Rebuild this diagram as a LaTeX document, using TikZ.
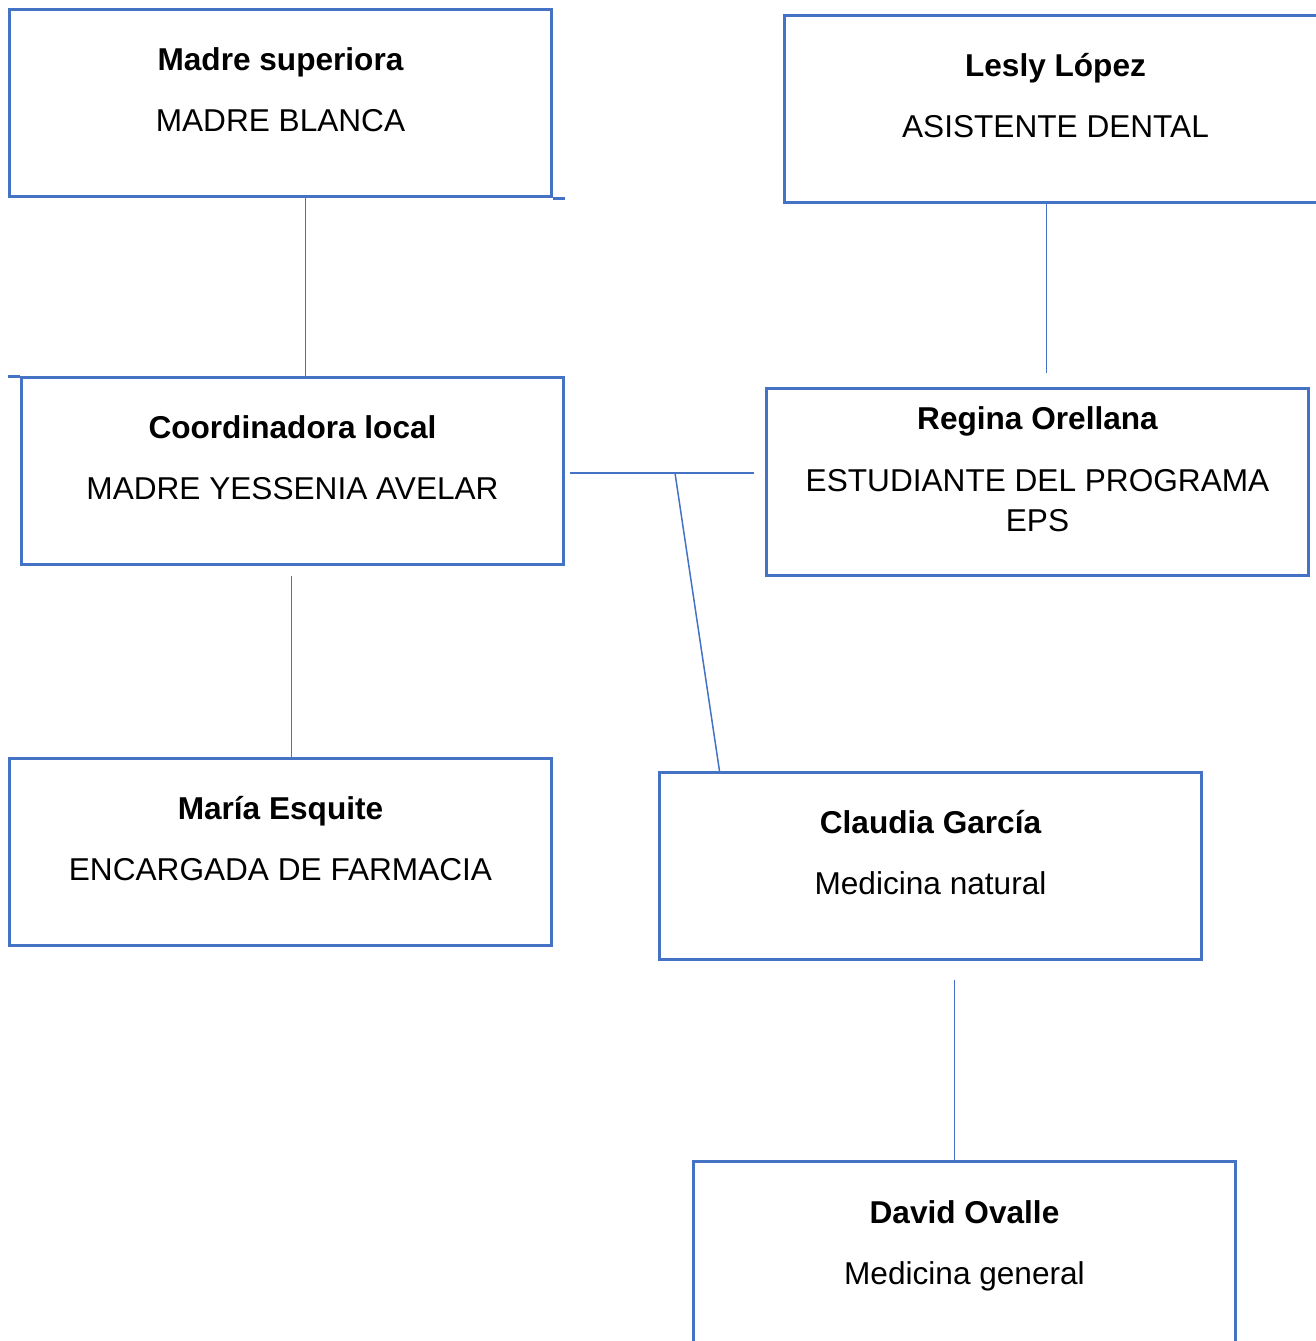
\documentclass[tikz,border=0pt]{standalone}
\usepackage{fontspec}
\setmainfont{Liberation Sans}
\usepackage{tikz}
\usetikzlibrary{calc}
\definecolor{azul}{HTML}{4472C4}

\tikzset{
    cargo/.style={draw=azul, line width=1.5pt, minimum width=271pt, minimum height=93.5pt, inner sep=0pt, anchor=north west},
    enlace/.style={draw=azul, line width=0.75pt},
    titulo/.style={font=\bfseries\fontsize{15.8}{19}\selectfont, anchor=base, inner sep=0pt},
    puesto/.style={font=\fontsize{15.8}{19}\selectfont, anchor=base, inner sep=0pt}
}

\begin{document}
\begin{tikzpicture}[x=0.5pt, y=-0.5pt]
        \clip (0,0) rectangle (1316,1341);
        \node[cargo] (madre) at (8,8) {};
        \node[cargo] (lesly) at (783,14) {};
        \node[cargo] (coord) at (20,376) {};
        \node[cargo] (regina) at (765,387) {};
        \node[cargo] (maria) at (8,757) {};
        \node[cargo] (claudia) at (658,771) {};
        \node[cargo] (david) at (692,1160) {};
        \draw[draw=azul, line width=1.5pt] (madre.south east) -- ++(12,0);
        \draw[draw=azul, line width=1.5pt] (coord.north west) -- ++(-12,0);

        \node[titulo] (madre-a) at ([yshift=-31pt]madre.north) {Madre superiora};
        \node[puesto] (madre-b) at ([yshift=-61.5pt]madre.north) {MADRE BLANCA};
        \node[titulo] (lesly-a) at ([yshift=-31pt]lesly.north) {Lesly López};
        \node[puesto] (lesly-b) at ([yshift=-61.5pt]lesly.north) {ASISTENTE DENTAL};
        \node[titulo] (coord-a) at ([yshift=-31pt]coord.north) {Coordinadora local};
        \node[puesto] (coord-b) at ([yshift=-61.5pt]coord.north) {MADRE YESSENIA AVELAR};
        \node[titulo] (regina-a) at ([yshift=-21pt]regina.north) {Regina Orellana};
        \node[puesto] (regina-b) at ([yshift=-52pt]regina.north) {ESTUDIANTE DEL PROGRAMA};
        \node[puesto] (regina-c) at ([yshift=-72pt]regina.north) {EPS};
        \node[titulo] (maria-a) at ([yshift=-31pt]maria.north) {María Esquite};
        \node[puesto] (maria-b) at ([yshift=-61.5pt]maria.north) {ENCARGADA DE FARMACIA};
        \node[titulo] (claudia-a) at ([yshift=-31pt]claudia.north) {Claudia García};
        \node[puesto] (claudia-b) at ([yshift=-61.5pt]claudia.north) {Medicina natural};
        \node[titulo] (david-a) at ([yshift=-31.5pt]david.north) {David Ovalle};
        \node[puesto] (david-b) at ([yshift=-62pt]david.north) {Medicina general};

        \coordinate (cruce-izq) at (570,473);
        \coordinate (cruce-der) at (754,473);
        \coordinate (cruce) at (675,473);
        \draw[enlace] ([xshift=12.5pt]madre.south) -- ([xshift=6.5pt]coord.north);
        \draw[enlace] ([xshift=-4.5pt]lesly.south) -- ([xshift=4.5pt,yshift=7pt]regina.north);
        \draw[enlace] (cruce-izq) -- (cruce-der);
        \draw[enlace] (cruce) -- ([xshift=-105.5pt]claudia.north);
        \draw[enlace] ([xshift=-0.5pt,yshift=-5pt]coord.south) -- ([xshift=5.5pt]maria.north);
        \draw[enlace] ([xshift=12pt,yshift=-9.5pt]claudia.south) -- ([xshift=-5pt]david.north);
    \end{tikzpicture}
\end{document}
